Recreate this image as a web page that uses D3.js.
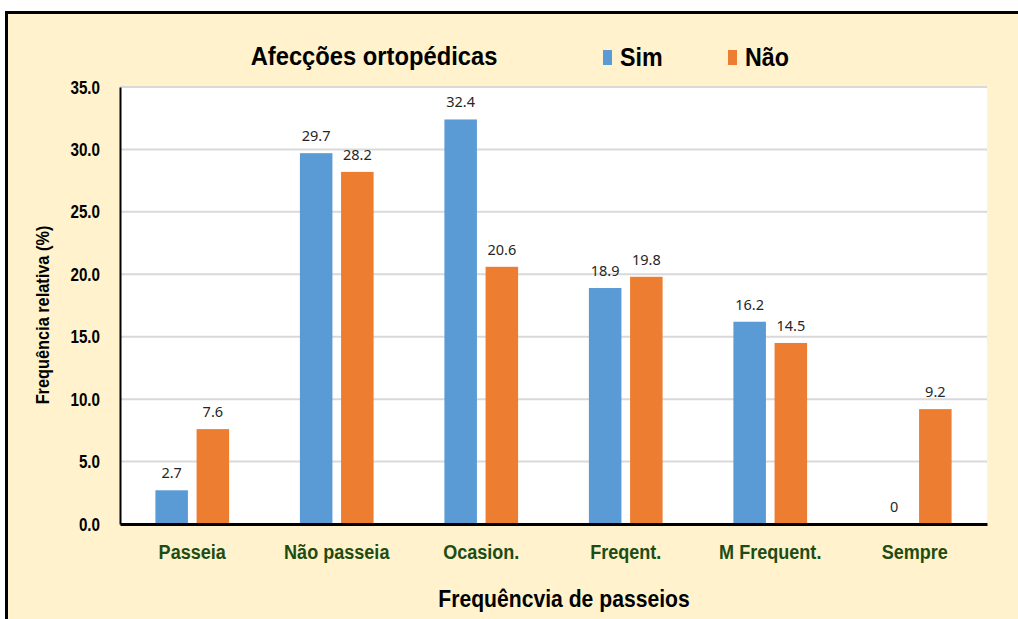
<!DOCTYPE html>
<html>
<head>
<meta charset="utf-8">
<script src="https://cdn.jsdelivr.net/npm/d3@7"></script>
<style>
  body { margin: 0; background: #fff; }
  svg { display: block; }
  .tick text { font-family: "Liberation Sans Narrow", "Liberation Sans", Arial, sans-serif; font-weight: bold; }
</style>
</head>
<body>
<div id="chart"></div>
<script>
// data
var categories = ["Passeia", "Não passeia", "Ocasion.", "Freqent.", "M Frequent.", "Sempre"];
var seriesNames = ["Sim", "Não"];
var simValues = [2.7, 29.7, 32.4, 18.9, 16.2, 0];
var naoValues = [7.6, 28.2, 20.6, 19.8, 14.5, 9.2];
var yTicks = [0, 5, 10, 15, 20, 25, 30, 35];
var colors = ["#5b9bd5", "#ed7d31"];

var fullWidth = 1018, fullHeight = 619;
var margin = {top: 87, right: 31, bottom: 95, left: 120},
    width = fullWidth - margin.left - margin.right,
    height = fullHeight - margin.top - margin.bottom;

var boldFont = "'Liberation Sans', Arial, sans-serif";

var data = categories.map(function(c, i) {
  return {cat: c, values: [simValues[i], naoValues[i]]};
});

var svg = d3.select("#chart").append("svg")
    .attr("width", fullWidth)
    .attr("height", fullHeight);

// cream frame, runs off the right and bottom edges
svg.append("rect")
    .attr("x", 6.5).attr("y", 12.5)
    .attr("width", fullWidth + 20).attr("height", fullHeight + 20)
    .attr("fill", "#fff2cc")
    .attr("stroke", "#000")
    .attr("stroke-width", 3);

var g = svg.append("g")
    .attr("transform", "translate(" + margin.left + "," + margin.top + ")");

g.append("rect")
    .attr("width", width).attr("height", height)
    .attr("fill", "#fff");

var x0 = d3.scaleBand().domain(categories).range([0, width]).paddingInner(0.49).paddingOuter(0.245);
var x1 = d3.scaleBand().domain(seriesNames).range([0, x0.bandwidth()]).paddingInner(0.21);
var y = d3.scaleLinear().domain([0, 35]).range([height, 0]);

// gridlines
g.append("g")
  .selectAll("line")
  .data(yTicks.slice(1))
  .enter().append("line")
    .attr("x1", 0).attr("x2", width)
    .attr("y1", function(d) { return y(d); })
    .attr("y2", function(d) { return y(d); })
    .attr("stroke", "#d9d9d9")
    .attr("stroke-width", 2);

var groups = g.selectAll(".grp")
    .data(data)
  .enter().append("g")
    .attr("class", "grp")
    .attr("transform", function(d) { return "translate(" + x0(d.cat) + ",0)"; });

groups.selectAll("rect")
    .data(function(d) { return d.values.map(function(v, i) { return {s: seriesNames[i], v: v, i: i}; }); })
  .enter().append("rect")
    .attr("x", function(d) { return x1(d.s); })
    .attr("y", function(d) { return y(d.v); })
    .attr("width", x1.bandwidth())
    .attr("height", function(d) { return height - y(d.v); })
    .attr("fill", function(d) { return colors[d.i]; });

groups.selectAll(".lbl")
    .data(function(d) { return d.values.map(function(v, i) { return {s: seriesNames[i], v: v}; }); })
  .enter().append("text")
    .attr("class", "lbl")
    .attr("x", function(d) { return x1(d.s) + x1.bandwidth() / 2; })
    .attr("y", function(d) { return y(d.v) - 12; })
    .attr("text-anchor", "middle")
    .attr("font-family", "'Noto Sans', 'DejaVu Sans', sans-serif")
    .attr("font-size", 14.5)
    .attr("fill", "#262626")
    .text(function(d) { return d.v; });

// y axis (labels squeezed sideways to look like a narrow font)
var sy = 0.8;
var yAxis = d3.axisLeft(y).tickValues(yTicks).tickSize(0).tickPadding(0)
    .tickFormat(d3.format(".1f"));
var ya = g.append("g").call(yAxis);
ya.select(".domain").attr("stroke", "#000").attr("stroke-width", 2);
ya.selectAll("text")
    .attr("font-size", 19).attr("fill", "#000")
    .attr("x", -20 / sy)
    .attr("transform", "scale(" + sy + ",1)");

// x axis
var sx = 0.86;
var xAxis = d3.axisBottom(x0).tickSize(0).tickPadding(20);
var xa = g.append("g").attr("transform", "translate(0," + height + ")").call(xAxis);
xa.select(".domain").attr("stroke", "#000").attr("stroke-width", 3);
xa.selectAll("text")
    .attr("font-size", 21).attr("fill", "#1d4d12")
    .attr("transform", "scale(" + sx + ",1)");

function squeezed(x, yy, size, scale, txt, rotate) {
  var t = svg.append("g")
      .attr("transform", "translate(" + x + "," + yy + ")" + (rotate ? " rotate(-90)" : "") + " scale(" + scale + ",1)")
    .append("text")
      .attr("text-anchor", "middle")
      .attr("font-family", boldFont)
      .attr("font-weight", "bold")
      .attr("font-size", size)
      .text(txt);
  return t;
}

// titles
squeezed(374, 65, 25, 0.95, "Afecções ortopédicas");
squeezed(564, 607, 23, 0.92, "Frequêncvia de passeios");
squeezed(49, 315, 19, 0.86, "Frequência relativa (%)", true);

// legend
var legendX = [603, 728];
var legend = svg.selectAll(".leg")
    .data(seriesNames)
  .enter().append("g")
    .attr("class", "leg")
    .attr("transform", function(d, i) { return "translate(" + legendX[i] + ",50)"; });
legend.append("rect")
    .attr("width", 9).attr("height", 15)
    .attr("y", 0)
    .attr("fill", function(d, i) { return colors[i]; });
legend.append("g")
    .attr("transform", "translate(17,16) scale(0.93,1)")
  .append("text")
    .attr("font-family", boldFont)
    .attr("font-weight", "bold")
    .attr("font-size", 25)
    .text(function(d) { return d; });
</script>
</body>
</html>
